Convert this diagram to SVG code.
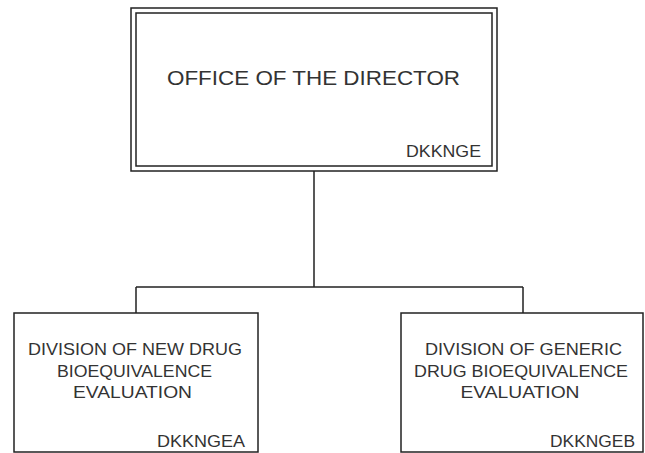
<svg xmlns="http://www.w3.org/2000/svg" width="645" height="453" viewBox="0 0 645 453">
<style>
.box{fill:#fff;stroke:#222;stroke-width:1.5}
.ln{fill:none;stroke:#222;stroke-width:1.5}
.t{font-family:"Liberation Sans",Arial,sans-serif;fill:#333;text-anchor:middle}
.c{font-family:"Liberation Sans",Arial,sans-serif;fill:#333;text-anchor:end;font-size:17px}
</style>
<rect width="645" height="453" fill="#fff"/>
<g id="connectors">
<path class="ln" d="M314 171V287M136 287H523M136 287V313M523 287V313"/>
</g>
<g id="director">
<rect class="box" x="131" y="8" width="366" height="163"/>
<rect class="box" x="136" y="13" width="356" height="153"/>
<text class="t" x="313.5" y="85" font-size="21" textLength="293" lengthAdjust="spacingAndGlyphs">OFFICE OF THE DIRECTOR</text>
<text class="c" x="481" y="157" textLength="75" lengthAdjust="spacingAndGlyphs">DKKNGE</text>
</g>
<g id="dkkngea">
<rect class="box" x="14" y="313" width="244" height="139"/>
<text class="t" font-size="17" x="135" y="355" textLength="214" lengthAdjust="spacingAndGlyphs">DIVISION OF NEW DRUG</text>
<text class="t" font-size="17" x="134.5" y="377" textLength="155" lengthAdjust="spacingAndGlyphs">BIOEQUIVALENCE</text>
<text class="t" font-size="17" x="132.5" y="398" textLength="119" lengthAdjust="spacingAndGlyphs">EVALUATION</text>
<text class="c" x="245" y="447" textLength="88" lengthAdjust="spacingAndGlyphs">DKKNGEA</text>
</g>
<g id="dkkngeb">
<rect class="box" x="401" y="313" width="242" height="139"/>
<text class="t" font-size="17" x="523.5" y="355" textLength="197" lengthAdjust="spacingAndGlyphs">DIVISION OF GENERIC</text>
<text class="t" font-size="17" x="521" y="377" textLength="214" lengthAdjust="spacingAndGlyphs">DRUG BIOEQUIVALENCE</text>
<text class="t" font-size="17" x="520" y="398" textLength="119" lengthAdjust="spacingAndGlyphs">EVALUATION</text>
<text class="c" x="635" y="447" textLength="85" lengthAdjust="spacingAndGlyphs">DKKNGEB</text>
</g>
</svg>
